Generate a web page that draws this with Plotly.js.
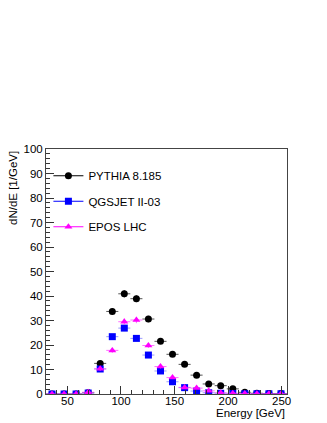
<!DOCTYPE html>
<html>
<head>
<meta charset="utf-8">
<script src="https://cdn.plot.ly/plotly-3.0.1.min.js"></script>
<style>
  html, body { margin: 0; padding: 0; background: #fff; }
  #chart { width: 327px; height: 423px; }
</style>
</head>
<body>
<div id="chart"></div>
<script>
// bin centres, 20 bins of 11.25 GeV from 30 to 255
const energy = [35.6, 46.9, 58.1, 69.4, 80.6, 91.9, 103.1, 114.4, 125.6, 136.9,
                148.1, 159.4, 170.6, 181.9, 193.1, 204.4, 215.6, 226.9, 238.1, 249.4];
const halfBin = [5.625, 5.625, 5.625, 5.625, 5.625, 5.625, 5.625, 5.625, 5.625, 5.625,
                 5.625, 5.625, 5.625, 5.625, 5.625, 5.625, 5.625, 5.625, 5.625, 5.625];

const pythia    = [0, 0, 0, 0.5, 12.5, 33.7, 40.9, 38.9, 30.6, 21.5, 16.2, 12.1, 7.7, 4.1, 3.4, 2.1, 0.7, 0.3, 0.2, 0.2];
const pythiaErr = [0.1, 0.1, 0.1, 0.3, 1.0, 1.3, 1.5, 1.4, 1.3, 1.1, 0.9, 0.8, 0.6, 0.5, 0.4, 0.4, 0.3, 0.2, 0.2, 0.2];

const qgsjet    = [0, 0, 0, 0.4, 10.2, 23.4, 26.9, 22.7, 15.9, 9.4, 5.0, 2.6, 1.2, 0.5, 0.3, 0.2, 0.1, 0.1, 0.1, 0.1];
const qgsjetErr = [0.1, 0.1, 0.1, 0.3, 0.9, 1.1, 1.2, 1.1, 0.9, 0.7, 0.5, 0.4, 0.3, 0.2, 0.2, 0.1, 0.1, 0.1, 0.1, 0.1];

const epos      = [0, 0, 0, 0.7, 10.3, 17.8, 29.5, 30.2, 19.8, 11.2, 6.7, 2.7, 2.4, 1.3, 0.5, 0.3, 0.2, 0.1, 0.1, 0.1];
const eposErr   = [0.1, 0.1, 0.1, 0.3, 0.9, 1.0, 1.3, 1.3, 1.0, 0.8, 0.6, 0.4, 0.4, 0.3, 0.2, 0.1, 0.1, 0.1, 0.1, 0.1];

const xTicks = [50, 100, 150, 200, 250];
const yTicks = [0, 10, 20, 30, 40, 50, 60, 70, 80, 90, 100];

const names   = ["PYTHIA 8.185", "QGSJET II-03", "EPOS LHC"];
const colors  = ["#000000", "#0000ff", "#ff00ff"];
const barCols = ["#555555", "rgba(90,90,255,0.6)", "rgba(255,60,255,0.75)"];
const symbols = ["circle", "square", "triangle-up"];
const values  = [pythia, qgsjet, epos];
const errors  = [pythiaErr, qgsjetErr, eposErr];

const traces = [];

// data points with bin-width and stat error bars
values.forEach((y, i) => {
  traces.push({
    type: "scatter",
    mode: "markers",
    showlegend: false,
    x: energy,
    y: y,
    marker: { color: colors[i], size: 7, symbol: symbols[i] },
    error_x: { type: "data", array: halfBin, visible: true, color: barCols[i], thickness: 1, width: 0 },
    error_y: { type: "data", array: errors[i], visible: true, color: barCols[i], thickness: 1, width: 0 },
  });
});

// legend entries (line + marker, ROOT style)
names.forEach((n, i) => {
  traces.push({
    type: "scatter",
    mode: "lines+markers",
    name: n,
    legendgroup: "g" + i,
    x: [null],
    y: [null],
    line: { color: colors[i], width: 1 },
    marker: { color: colors[i], size: 7, symbol: symbols[i] },
  });
});

const axisFont = { family: "Liberation Sans, Arial, sans-serif", size: 11.5, color: "#000" };

const layout = {
  width: 327,
  height: 423,
  margin: { l: 46, r: 40, t: 149, b: 29 },
  paper_bgcolor: "#ffffff",
  plot_bgcolor: "#ffffff",
  font: axisFont,
  showlegend: true,
  legend: {
    x: 0.01, y: 0.95, xanchor: "left", yanchor: "top",
    bgcolor: "rgba(0,0,0,0)",
    font: { family: "Liberation Sans, Arial, sans-serif", size: 11.5, color: "#000" },
    traceorder: "grouped",
    tracegroupgap: 6.5,
  },
  xaxis: {
    range: [30, 255],
    tickvals: xTicks,
    ticktext: xTicks.map(String),
    ticks: "inside", ticklen: 8, tickcolor: "#333", tickwidth: 1,
    ticklabelstandoff: -4,
    minor: { dtick: 10, tick0: 0, ticks: "inside", ticklen: 4, tickcolor: "#333" },
    showline: true, linecolor: "#444", linewidth: 1, mirror: true,
    showgrid: false, zeroline: false,
    tickfont: axisFont,
  },
  yaxis: {
    range: [0, 100],
    tickvals: yTicks,
    ticktext: yTicks.map(String),
    ticks: "inside", ticklen: 8, tickcolor: "#333", tickwidth: 1,
    minor: { dtick: 2, tick0: 0, ticks: "inside", ticklen: 4, tickcolor: "#333" },
    showline: true, linecolor: "#444", linewidth: 1, mirror: true,
    showgrid: false, zeroline: false,
    tickfont: axisFont,
  },
  annotations: [
    {
      text: "Energy [GeV]", xref: "paper", yref: "paper",
      x: 1, y: -0.076, xanchor: "right", yanchor: "middle",
      showarrow: false, font: axisFont,
    },
    {
      text: "dN/dE [1/GeV]", xref: "paper", yref: "paper",
      x: -0.137, y: 1, xanchor: "center", yanchor: "top", textangle: -90,
      showarrow: false, font: axisFont,
    },
  ],
};

Plotly.newPlot("chart", traces, layout, { displayModeBar: false, staticPlot: true });
</script>
</body>
</html>
